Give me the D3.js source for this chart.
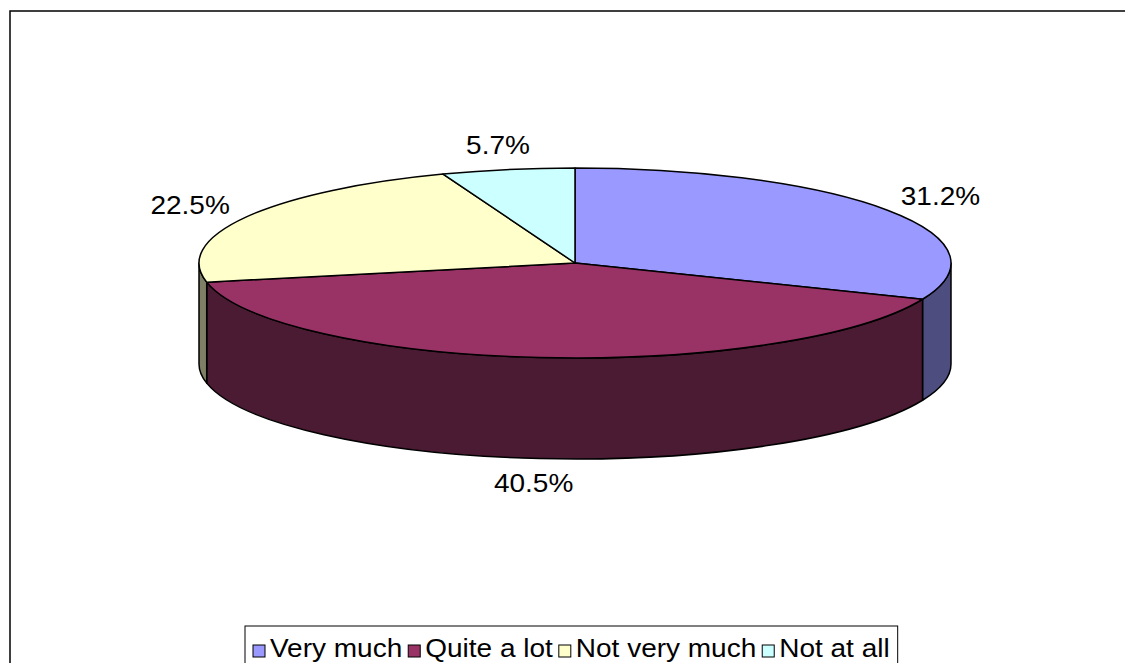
<!DOCTYPE html>
<html>
<head>
<meta charset="utf-8">
<script src="https://cdn.jsdelivr.net/npm/d3@7"></script>
<style>
  html, body { margin: 0; padding: 0; background: #fff; }
  svg { display: block; }
  text { font-family: "Liberation Sans", Arial, sans-serif; fill: #000; }
</style>
</head>
<body>
<svg id="chart" width="1125" height="663"></svg>
<script>
const categories = ["Very much", "Quite a lot", "Not very much", "Not at all"];
const values = [31.2, 40.5, 22.5, 5.7];
const valueLabels = ["31.2%", "40.5%", "22.5%", "5.7%"];
const topColors = ["#9999FF", "#993366", "#FFFFCC", "#CCFFFF"];
const sideColors = ["#4D4D80", "#4B1A33", "#7F7F66", "#668080"];

const W = 1125, H = 663;
const svg = d3.select("#chart");
const FS = 25, SX = 1.12;

// frame
svg.append("rect").attr("x", 10).attr("y", 11).attr("width", 1200).attr("height", 800)
  .attr("fill", "#fff").attr("stroke", "#000").attr("stroke-width", 1.5);

const cx = 575, cy = 263, rx = 376, ry = 95, depth = 101;
const P = (a, dy = 0) => [cx + rx * Math.sin(a), cy - ry * Math.cos(a) + dy];

const pie = d3.pie().sort(null).value(d => d);
const arcs = pie(values);

// sides
const sides = svg.append("g");
arcs.forEach((d, i) => {
  const b0 = Math.max(d.startAngle, Math.PI / 2);
  const b1 = Math.min(d.endAngle, 3 * Math.PI / 2);
  if (b1 <= b0) return;
  const p0 = P(b0), p1 = P(b1), q1 = P(b1, depth), q0 = P(b0, depth);
  const path = `M${p0}A${rx},${ry} 0 0 1 ${p1}L${q1}A${rx},${ry} 0 0 0 ${q0}Z`;
  sides.append("path").attr("d", path).attr("fill", sideColors[i])
    .attr("stroke", "#000").attr("stroke-width", 1.5).attr("stroke-linejoin", "round");
});

// tops
const tops = svg.append("g");
arcs.forEach((d, i) => {
  const p0 = P(d.startAngle), p1 = P(d.endAngle);
  const large = (d.endAngle - d.startAngle) > Math.PI ? 1 : 0;
  const path = `M${cx},${cy}L${p0}A${rx},${ry} 0 ${large} 1 ${p1}Z`;
  tops.append("path").attr("d", path).attr("fill", topColors[i])
    .attr("stroke", "#000").attr("stroke-width", 1.5).attr("stroke-linejoin", "round");
});

// data labels
const lrx = 400, lry = 120;
arcs.forEach((d, i) => {
  const m = (d.startAngle + d.endAngle) / 2;
  const t = svg.append("text")
    .attr("text-anchor", "middle").attr("font-size", FS)
    .text(valueLabels[i]);
  const hw = t.node().getComputedTextLength() * SX / 2;
  let x = cx + (lrx + hw) * Math.sin(m);
  let y = cy - lry * Math.cos(m);
  if (Math.cos(m) < 0) y += depth;
  t.attr("transform", `translate(${x},${y + FS * 0.35}) scale(${SX},1)`);
});

// legend
const lg = svg.append("g");
const box = lg.append("rect").attr("x", 245).attr("y", 626).attr("width", 658).attr("height", 60)
  .attr("fill", "#fff").attr("stroke", "#000").attr("stroke-width", 1);
let lx = 253;
categories.forEach((c, i) => {
  lg.append("rect").attr("x", lx).attr("y", 645).attr("width", 12).attr("height", 12)
    .attr("fill", topColors[i]).attr("stroke", "#000").attr("stroke-width", 1);
  const t = lg.append("text")
    .attr("transform", `translate(${lx + 17},657) scale(${SX},1)`)
    .attr("font-size", FS).text(c);
  const w = t.node().getComputedTextLength() * SX;
  lx += 17 + w + 6;
});
box.attr("width", lx - 245 + 2);
</script>
</body>
</html>
